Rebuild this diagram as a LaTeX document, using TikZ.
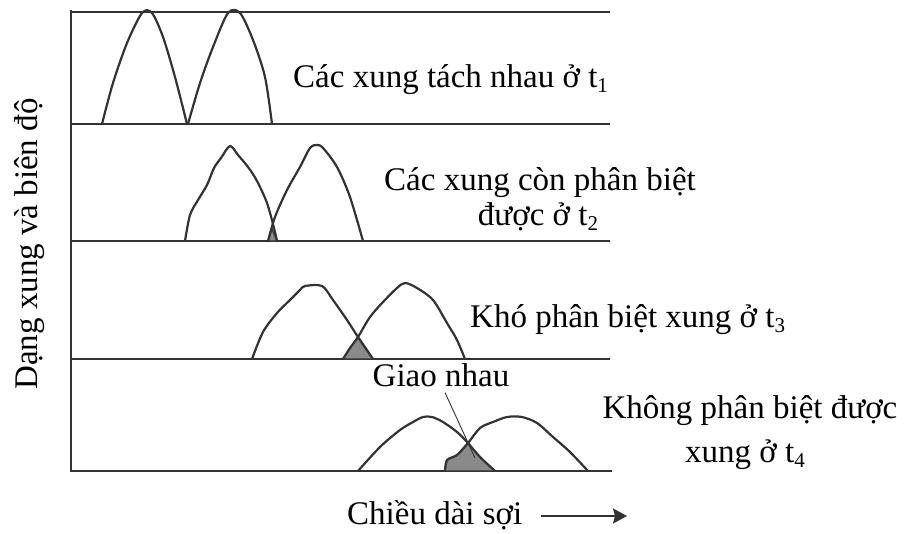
\documentclass[tikz,border=0pt]{standalone}
\usepackage{fontspec}
\setmainfont{Liberation Serif}
\usetikzlibrary{arrows.meta}
\definecolor{ink}{HTML}{333333}
\definecolor{shade}{HTML}{8A8A8A}
\newcommand{\mysub}[1]{\raisebox{-5pt}{\fontsize{21}{21}\selectfont #1}}
\tikzset{
  frameline/.style={draw=ink, line width=2.8pt},
  pulse/.style={draw=ink, line width=2.2pt, line join=round, line cap=round},
  overlap/.style={fill=shade, draw=ink, line width=1.2pt, line join=round},
  lbl/.style={inner sep=0pt, font=\fontsize{33}{39}\selectfont, text=black},
  pointer/.style={draw=ink, line width=0.9pt}
}
\begin{document}
\begin{tikzpicture}[x=1pt,y=-1pt]
\useasboundingbox (0,0) rectangle (904,533);
% frame
\draw[frameline] (71,10) -- (71,472);
\draw[frameline] (70,12) -- (610,12);
\draw[frameline] (70,124) -- (610,124);
\draw[frameline] (70,241) -- (610,241);
\draw[frameline] (70,359) -- (610,359);
\draw[frameline] (70,471) -- (612,471);
% overlaps
\path[overlap] (268,241) -- (272,229) -- (277,241) -- cycle;
\path[overlap] (343,359) -- (350,348) -- (358,337) -- (366,348) -- (373,359) -- cycle;
\path[overlap] (445,471) -- (447,460) -- (457,455) -- (468,443) -- (480,457) -- (495,471) -- cycle;
% panel 1
\draw[pulse] plot[smooth, tension=0.5] coordinates {(102,124) (113,83) (127,43) (142,13) (152,13) (163,37) (175,77) (187,124)};
\draw[pulse] plot[smooth, tension=0.5] coordinates {(188,124) (200,83) (213,47) (228,13) (240,13) (253,40) (265,77) (272,124)};
% panel 2
\draw[pulse] plot[smooth, tension=0.5] coordinates {(185,241) (190,215) (198,200) (207,185) (214,168) (221,158) (230,146) (238,155) (248,167) (257,181) (267,203) (274,228) (277,241)};
\draw[pulse] plot[smooth, tension=0.5] coordinates {(268,241) (275,217) (287,190) (300,167) (310,148) (317,145) (323,148) (337,167) (350,197) (363,241)};
% panel 3
\draw[pulse] plot[smooth, tension=0.5] coordinates {(252,359) (263,332) (277,313) (290,300) (300,290) (305,286) (322,286) (333,300) (347,320) (358,337) (373,359)};
\draw[pulse] plot[smooth, tension=0.5] coordinates {(343,359) (350,348) (358,337) (370,317) (383,302) (397,288) (405,283) (417,288) (433,300) (447,323) (457,340) (465,359)};
% panel 4
\draw[pulse] plot[smooth, tension=0.5] coordinates {(358,471) (380,447) (400,430) (413,422) (423,417) (432,417) (443,422) (457,432) (468,443) (480,457) (495,471)};
\draw[pulse] plot[smooth, tension=0.5] coordinates {(445,471) (447,460) (457,455) (468,443) (480,428) (493,422) (507,417) (522,417) (537,423) (553,437) (570,452) (588,471)};
% labels
\node[lbl, anchor=base west] (t1) at (293,87) {Các xung tách nhau ở t\mysub{1}};
\node[lbl, anchor=base] (t2a) at (540,190) {Các xung còn phân biệt};
\node[lbl, anchor=base] (t2b) at (538,225) {được ở t\mysub{2}};
\node[lbl, anchor=base west] (t3) at (470,327) {Khó phân biệt xung ở t\mysub{3}};
\node[lbl, anchor=base] (t4a) at (750,418) {Không phân biệt được};
\node[lbl, anchor=base] (t4b) at (745,462) {xung ở t\mysub{4}};
\node[lbl, anchor=base] (giao) at (441,386) {Giao nhau};
\coordinate (gp) at (475,458);
\draw[pointer] ([xshift=4pt,yshift=-6pt]giao.south) -- (gp);
\node[lbl, rotate=90] (ylab) at (30,244) {Dạng xung và biên độ};
\node[lbl, anchor=base west] (xlab) at (347,524) {Chiều dài sợi};
\coordinate (arrend) at (627,516);
\draw[draw=ink, line width=1.6pt, -{Stealth[length=14pt,width=15pt,inset=2pt]}] ([xshift=18pt]xlab.base east |- arrend) -- (arrend);
\end{tikzpicture}
\end{document}
